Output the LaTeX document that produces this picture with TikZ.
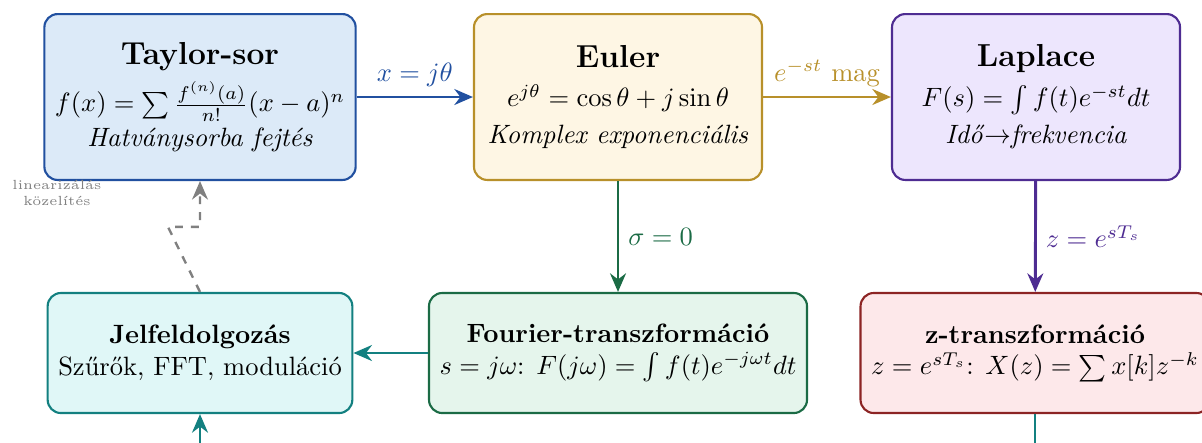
\documentclass[tikz,border=0pt]{standalone}
\usetikzlibrary{arrows.meta}
\definecolor{tayB}{HTML}{2150A0}\definecolor{tayF}{HTML}{DCEAF8}
\definecolor{eulB}{HTML}{B8902A}\definecolor{eulF}{HTML}{FEF6E4}
\definecolor{lapB}{HTML}{4E2C92}\definecolor{lapF}{HTML}{EDE6FD}
\definecolor{jelB}{HTML}{138080}\definecolor{jelF}{HTML}{E0F7F7}
\definecolor{fouB}{HTML}{1B6B45}\definecolor{fouF}{HTML}{E5F5EC}
\definecolor{ztrB}{HTML}{8C2424}\definecolor{ztrF}{HTML}{FDE8EA}
\begin{document}
\begin{tikzpicture}[x=0.3774pt,y=-0.3774pt,
  box/.style={draw=#1B,fill=#1F,thick,rounded corners=5pt,align=center,inner sep=4pt},
  topbox/.style={box=#1,minimum height=62.6pt},
  lowbox/.style={box=#1,minimum height=45.3pt},
  link/.style={draw=#1,line width=1.1pt,-{Stealth[length=7pt,width=6pt]}}]
\useasboundingbox (0,0) rectangle (1202,442);
\clip (0,0) rectangle (1202,442);
% upper row
\node[topbox=tay,minimum width=117pt] (tay) at (200,97) {%
  {\large\bfseries Taylor-sor}\\[3pt]
  $f(x)=\sum\frac{f^{(n)}(a)}{n!}(x-a)^n$\\[1pt]
  \textit{Hatványsorba fejtés}};
\node[topbox=eul,minimum width=108.7pt] (eul) at (618,97) {%
  {\large\bfseries Euler}\\[3pt]
  $e^{j\theta}=\cos\theta+j\sin\theta$\\[2pt]
  \textit{Komplex exponenciális}};
\node[topbox=lap,minimum width=108.7pt] (lap) at (1036,97) {%
  {\large\bfseries Laplace}\\[3pt]
  $F(s)=\int f(t)e^{-st}dt$\\[2pt]
  \textit{Idő}$\to$\textit{frekvencia}};
% lower row
\node[lowbox=jel,minimum width=114.7pt] (jel) at (200,353) {%
  \textbf{Jelfeldolgozás}\\ Szűrők, FFT, moduláció};
\node[lowbox=fou,minimum width=142.6pt] (fou) at (618,353) {%
  \textbf{Fourier-transzformáció}\\ $s=j\omega$: $F(j\omega)=\int f(t)e^{-j\omega t}dt$};
\node[lowbox=ztr,minimum width=130.6pt] (ztr) at (1035,353) {%
  \textbf{z-transzformáció}\\ $z=e^{sT_s}$: $X(z)=\sum x[k]z^{-k}$};
% connectors
\draw[link=tayB] (tay) -- node[above,text=tayB] {$x=j\theta$} (eul);
\draw[link=eulB] (eul) -- node[above,text=eulB] {$e^{-st}$ mag} (lap);
\draw[link=fouB] (eul) -- node[right,text=fouB] {$\sigma=0$} (fou);
\draw[link=lapB] (lap) -- node[right,text=lapB] {$z=e^{sT_s}$} (ztr);
\draw[link=jelB] (fou) -- (jel);
\draw[link=jelB] (ztr.south) -- ++(0,60) -| (jel.south);
% approximation back to Taylor
\draw[link=gray,dashed,line width=0.9pt] (jel.north) -- ++(-32,-65) -- ++(32,0) -- (tay.south);
\node[font=\tiny,text=gray,align=center] (lin) at (57,193) {linearizálás\\közelítés};
\end{tikzpicture}
\end{document}
